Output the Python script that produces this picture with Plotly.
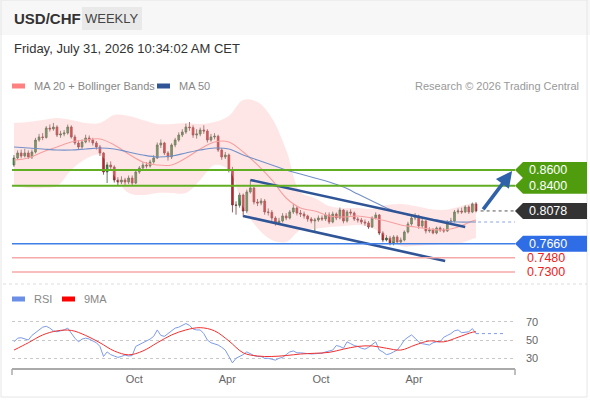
import pandas as pd
import plotly.graph_objects as go

# ── Weekly USD/CHF candles (one per Friday, last = 2026-07-31) ───────────────
last_week = "2026-07-31"
first_open = 0.8664
close = [
    0.8753, 0.8817, 0.8778, 0.8817, 0.8766, 0.8829, 0.8982, 0.9021, 0.9015, 0.9135,
    0.9123, 0.9148, 0.9046, 0.9059, 0.9072, 0.9148, 0.9021, 0.8944, 0.8893, 0.8957,
    0.9008, 0.8982, 0.8944, 0.8893, 0.8817, 0.8575, 0.8664, 0.8638, 0.8473, 0.8447,
    0.8473, 0.8447, 0.8498, 0.8434, 0.8575, 0.8625, 0.8664, 0.8651, 0.8702, 0.8753,
    0.8919, 0.8944, 0.8817, 0.8766, 0.8919, 0.8982, 0.9046, 0.9084, 0.9148, 0.9140,
    0.9046, 0.9059, 0.9110, 0.9097, 0.8982, 0.9021, 0.9030, 0.8855, 0.8766, 0.8791,
    0.8600, 0.8154, 0.8150, 0.8281, 0.8077, 0.8320, 0.8371, 0.8192, 0.8179, 0.8205,
    0.8065, 0.8060, 0.7988, 0.7925, 0.7950, 0.8014, 0.7988, 0.8065, 0.8116, 0.8052,
    0.8039, 0.8014, 0.7975, 0.7950, 0.7963, 0.7988, 0.7975, 0.8026, 0.7937, 0.8039,
    0.7988, 0.8090, 0.7950, 0.8065, 0.8052, 0.7975, 0.7963, 0.7937, 0.7925, 0.7874,
    0.7988, 0.8026, 0.7797, 0.7708, 0.7733, 0.7670, 0.7746, 0.7682, 0.7708, 0.7810,
    0.7912, 0.7988, 0.8014, 0.7886, 0.7950, 0.7823, 0.7835, 0.7797, 0.7861, 0.7835,
    0.7823, 0.7937, 0.7950, 0.8065, 0.8077, 0.8065, 0.8128, 0.8065, 0.8167, 0.8078,
]
high = [
    0.8790, 0.8850, 0.8860, 0.8870, 0.8850, 0.8860, 0.9010, 0.9060, 0.9070, 0.9160,
    0.9180, 0.9200, 0.9170, 0.9100, 0.9110, 0.9180, 0.9170, 0.9050, 0.8980, 0.8990,
    0.9050, 0.9040, 0.9010, 0.8970, 0.8920, 0.8830, 0.8700, 0.8710, 0.8660, 0.8510,
    0.8520, 0.8500, 0.8530, 0.8530, 0.8600, 0.8650, 0.8700, 0.8700, 0.8730, 0.8790,
    0.8950, 0.8990, 0.8960, 0.8840, 0.8940, 0.9010, 0.9080, 0.9120, 0.9190, 0.9210,
    0.9170, 0.9120, 0.9140, 0.9170, 0.9120, 0.9060, 0.9070, 0.9050, 0.8880, 0.8830,
    0.8810, 0.8640, 0.8200, 0.8310, 0.8300, 0.8350, 0.8473, 0.8390, 0.8230, 0.8240,
    0.8230, 0.8110, 0.8090, 0.8010, 0.7990, 0.8050, 0.8050, 0.8090, 0.8170, 0.8140,
    0.8090, 0.8070, 0.8030, 0.8000, 0.7990, 0.8020, 0.8020, 0.8060, 0.8060, 0.8070,
    0.8060, 0.8120, 0.8100, 0.8090, 0.8100, 0.8070, 0.8000, 0.7990, 0.7970, 0.7950,
    0.8010, 0.8060, 0.8040, 0.7820, 0.7770, 0.7760, 0.7770, 0.7770, 0.7740, 0.7830,
    0.7940, 0.8020, 0.8050, 0.8030, 0.7990, 0.7960, 0.7870, 0.7860, 0.7880, 0.7880,
    0.7860, 0.7960, 0.7990, 0.8090, 0.8110, 0.8120, 0.8150, 0.8150, 0.8185, 0.8190,
]
low = [
    0.8640, 0.8730, 0.8750, 0.8760, 0.8740, 0.8740, 0.8810, 0.8960, 0.8980, 0.9000,
    0.9090, 0.9100, 0.9020, 0.9010, 0.9030, 0.9050, 0.9000, 0.8920, 0.8860, 0.8870,
    0.8940, 0.8950, 0.8910, 0.8860, 0.8780, 0.8540, 0.8434, 0.8600, 0.8440, 0.8400,
    0.8420, 0.8410, 0.8420, 0.8400, 0.8420, 0.8550, 0.8600, 0.8620, 0.8630, 0.8680,
    0.8740, 0.8880, 0.8790, 0.8720, 0.8740, 0.8890, 0.8960, 0.9020, 0.9060, 0.9100,
    0.9010, 0.9000, 0.9030, 0.9060, 0.8950, 0.8960, 0.8990, 0.8830, 0.8730, 0.8740,
    0.8570, 0.8060, 0.8030, 0.8120, 0.8000, 0.8050, 0.8300, 0.8160, 0.8140, 0.8150,
    0.8030, 0.8020, 0.7950, 0.7890, 0.7900, 0.7930, 0.7960, 0.7970, 0.8040, 0.8020,
    0.8000, 0.7980, 0.7940, 0.7920, 0.7810, 0.7940, 0.7950, 0.7950, 0.7910, 0.7920,
    0.7960, 0.7970, 0.7920, 0.7930, 0.8020, 0.7950, 0.7930, 0.7910, 0.7890, 0.7850,
    0.7860, 0.7970, 0.7770, 0.7680, 0.7690, 0.7640, 0.7640, 0.7660, 0.7665, 0.7690,
    0.7790, 0.7890, 0.7960, 0.7850, 0.7860, 0.7790, 0.7800, 0.7780, 0.7780, 0.7810,
    0.7800, 0.7810, 0.7910, 0.7930, 0.8040, 0.8040, 0.8050, 0.8040, 0.8050, 0.8060,
]

# ── Indicators, every 4th week (index into the candles) ───
ind_weeks = [0, 4, 8, 12, 16, 20, 24, 28, 32, 36, 40, 44, 48, 52, 56, 60, 64,
             68, 72, 76, 80, 84, 88, 92, 96, 100, 104, 108, 112, 116, 120, 124, 128, 129]
ma20 = [0.8727, 0.8753, 0.8829, 0.8893, 0.8957, 0.8982, 0.8995, 0.8919, 0.8804,
        0.8702, 0.8664, 0.8664, 0.8753, 0.8868, 0.8957, 0.8957, 0.8829, 0.8664,
        0.8473, 0.8243, 0.8116, 0.8077, 0.8014, 0.8001, 0.8014, 0.7988, 0.7950,
        0.7899, 0.7874, 0.7848, 0.7835, 0.7874, 0.7950, 0.7963]
bb_upper = [0.9199, 0.9212, 0.9237, 0.9263, 0.9237, 0.9199, 0.9199, 0.9301, 0.9288,
            0.9237, 0.9186, 0.9186, 0.9199, 0.9186, 0.9212, 0.9288, 0.9492, 0.9467,
            0.9263, 0.8855, 0.8320, 0.8243, 0.8141, 0.8116, 0.8116, 0.8103, 0.8154,
            0.8167, 0.8141, 0.8103, 0.8090, 0.8128, 0.8179, 0.8179]
bb_lower = [0.8396, 0.8371, 0.8371, 0.8396, 0.8600, 0.8740, 0.8791, 0.8524, 0.8307,
            0.8281, 0.8307, 0.8307, 0.8307, 0.8473, 0.8664, 0.8600, 0.8128, 0.7861,
            0.7708, 0.7682, 0.7835, 0.7848, 0.7874, 0.7886, 0.7899, 0.7861, 0.7746,
            0.7631, 0.7631, 0.7644, 0.7657, 0.7657, 0.7721, 0.7733]
ma50 = [0.8893, 0.8880, 0.8868, 0.8855, 0.8855, 0.8868, 0.8880, 0.8868, 0.8829,
        0.8791, 0.8766, 0.8778, 0.8817, 0.8855, 0.8880, 0.8868, 0.8791, 0.8727,
        0.8664, 0.8600, 0.8549, 0.8498, 0.8447, 0.8383, 0.8294, 0.8205, 0.8116,
        0.8052, 0.8001, 0.7975, 0.7950, 0.7937, 0.7937, 0.7937]

# RSI (weekly) and its 9-period MA (sampled like the indicators above)
rsi = [
    48, 52, 52.5, 51, 50, 55, 58, 61, 64, 65,
    63, 60, 59, 60, 61, 63, 57, 52, 48, 51,
    52, 51, 49, 47, 43, 32, 37, 34, 32.5, 31,
    32, 33.6, 32.5, 33, 43, 45, 47, 49, 51, 54,
    61, 55, 54, 57, 60, 63, 64, 66, 68, 66,
    62, 61, 61, 57, 50, 47, 46, 44.5, 42, 39,
    32, 25, 30, 32, 34, 37, 35, 33, 32, 32,
    30, 30, 29, 28, 30, 31, 34, 37, 38, 36,
    36, 35.5, 35, 34.7, 35, 35.5, 35.5, 37, 38, 39,
    44, 43, 41, 48, 46, 44, 43, 41, 40, 42,
    45, 48, 39, 37, 34, 35, 37, 39, 44, 50,
    53, 55.5, 52, 48, 46, 45, 44.5, 47, 48, 48,
    53, 55, 57, 60, 61, 58, 58.5, 59, 62.5, 57,
]
rsi_ma = [39, 47, 55.5, 60, 60.5, 55, 47, 38, 33.8, 38, 47, 55.5, 61, 63.5, 60,
          49, 36, 32.5, 32, 33, 34.7, 35.5, 36.5, 40, 43, 43.5, 41, 39, 44.5,
          49, 48, 53, 58.5, 59]

# ── Key levels / drawings ────────────────────────────────────────────────────
resistances = [0.8600, 0.8400]
pivot = 0.7660
supports = [0.7480, 0.7300]
chan_up_weeks, chan_up = [66, 126], [0.8473, 0.7874]
chan_lo_weeks, chan_lo = [64, 120.4], [0.8014, 0.7440]
arrow_weeks = [130.7, 139.1]
rsi_ticks = [30, 50, 70]
month_ticks = ["2024-10-01", "2025-04-01", "2025-10-01", "2026-04-01"]
month_text = ["Oct", "Apr", "Oct", "Apr"]

# ── Helpers ──────────────────────────────────────────────────────────────────
W, H = 590, 400
dates = pd.date_range(end=last_week, periods=len(close), freq="7D")
opens = [first_open] + close[:-1]   # FX weekly candle opens at previous close


def wk(w):
    return dates[0] + pd.Timedelta(days=7 * w)


def px(x):
    return x / W


def py(y):
    return 1 - y / H


ind_dates = [wk(w) for w in ind_weeks]
x_dom = [px(12), px(515)]
y_main = [0.7134, 0.9556]
x_range = [wk(-0.56), wk(139.9)]
FONT = "Liberation Sans, Arial, sans-serif"
GREEN_TAG = "#4f9d0f"
GREEN_LINE = "#62ae22"

fig = go.Figure()

# Bollinger band fill + moving averages
fig.add_trace(go.Scatter(x=ind_dates, y=bb_upper, mode="lines", line=dict(width=0, shape="spline"),
                         hoverinfo="skip", xaxis="x", yaxis="y"))
fig.add_trace(go.Scatter(x=ind_dates, y=bb_lower, mode="lines", line=dict(width=0, shape="spline"),
                         fill="tonexty", fillcolor="rgba(255,180,180,0.33)", hoverinfo="skip",
                         xaxis="x", yaxis="y"))
fig.add_trace(go.Scatter(x=ind_dates, y=ma20, mode="lines",
                         line=dict(color="#f5a0a0", width=1.1, shape="spline"), xaxis="x", yaxis="y"))
fig.add_trace(go.Scatter(x=ind_dates, y=ma50, mode="lines",
                         line=dict(color="#7390c8", width=1.1, shape="spline"), xaxis="x", yaxis="y"))

# candles
fig.add_trace(go.Candlestick(
    x=dates, open=opens, high=high, low=low, close=close,
    increasing=dict(line=dict(color="#3d5c3d", width=0.8), fillcolor="#2f9a3a"),
    decreasing=dict(line=dict(color="#7a3a3a", width=0.8), fillcolor="#e8141c"),
    whiskerwidth=0, xaxis="x", yaxis="y",
))

# channel
for ws, vals in [(chan_up_weeks, chan_up), (chan_lo_weeks, chan_lo)]:
    fig.add_trace(go.Scatter(x=[wk(w) for w in ws], y=vals, mode="lines",
                             line=dict(color="#2f5597", width=2.6), xaxis="x", yaxis="y"))

# dotted extensions of last price and MA50
fig.add_trace(go.Scatter(x=[wk(130.3), x_range[1]], y=[close[-1]] * 2, mode="lines",
                         line=dict(color="#555", width=1, dash="dot"), xaxis="x", yaxis="y"))
fig.add_trace(go.Scatter(x=[wk(129.6), x_range[1]], y=[ma50[-1]] * 2, mode="lines",
                         line=dict(color="#8aa6de", width=1, dash="dot"), xaxis="x", yaxis="y"))

# RSI panel
fig.add_trace(go.Scatter(x=dates, y=rsi, mode="lines", line=dict(color="#7d9be8", width=1),
                         xaxis="x2", yaxis="y2"))
fig.add_trace(go.Scatter(x=ind_dates, y=rsi_ma, mode="lines",
                         line=dict(color="#f03030", width=1, shape="spline"), xaxis="x2", yaxis="y2"))
fig.add_trace(go.Scatter(x=[dates[-1], wk(137)], y=[rsi[-1]] * 2, mode="lines",
                         line=dict(color="#7d9be8", width=1, dash="dot"), xaxis="x2", yaxis="y2"))

shapes = []
annotations = []

# frame, header strip, separator
shapes.append(dict(type="rect", xref="paper", yref="paper", x0=0, x1=1, y0=py(35), y1=1,
                   fillcolor="#f8f7f7", line=dict(width=0), layer="below"))
shapes.append(dict(type="rect", xref="paper", yref="paper", x0=px(1), x1=px(587), y0=py(397), y1=1,
                   line=dict(color="#e6e6e6", width=1), layer="below"))
shapes.append(dict(type="line", xref="paper", yref="paper", x0=px(3), x1=px(587), y0=py(284), y1=py(284),
                   line=dict(color="#dddddd", width=1, dash="dot")))
shapes.append(dict(type="rect", xref="paper", yref="paper", x0=px(82), x1=px(142), y0=py(30), y1=py(7),
                   fillcolor="#e9e9e9", line=dict(width=0)))

# level lines
for lv in resistances:
    shapes.append(dict(type="line", xref="x domain", yref="y", x0=0, x1=1, y0=lv, y1=lv,
                       line=dict(color=GREEN_LINE, width=2)))
shapes.append(dict(type="line", xref="x domain", yref="y", x0=0, x1=1, y0=pivot, y1=pivot,
                   line=dict(color="#3f7fe8", width=1.5)))
for lv in supports:
    shapes.append(dict(type="line", xref="x domain", yref="y", x0=0, x1=1, y0=lv, y1=lv,
                       line=dict(color="#f6a8a8", width=1.5)))


# right-hand price tags
def tag(value, color):
    h = 8 / 784.6
    xa, xb, xc = px(515), px(523), px(587)
    path = (f"M {xa},{value} L {xb},{value + h} L {xc},{value + h} "
            f"L {xc},{value - h} L {xb},{value - h} Z")
    shapes.append(dict(type="path", xref="paper", yref="y", path=path,
                       fillcolor=color, line=dict(width=0)))
    annotations.append(dict(xref="paper", yref="y", x=px(527), y=value, xanchor="left",
                            text=f"{value:.4f}", showarrow=False,
                            font=dict(color="white", size=12.5, family=FONT)))


tag(resistances[0], GREEN_TAG)
tag(resistances[1], GREEN_TAG)
tag(close[-1], "#333333")
tag(pivot, "#2f6de6")
for lv in supports:
    annotations.append(dict(xref="paper", yref="y", x=px(525), y=lv, xanchor="left",
                            text=f"{lv:.4f}", showarrow=False,
                            font=dict(color="#f02020", size=12.5, family=FONT)))

# target arrow
annotations.append(dict(xref="x", yref="y", axref="x", ayref="y",
                        x=wk(arrow_weeks[1]), y=resistances[0] - 0.0012,
                        ax=wk(arrow_weeks[0]), ay=close[-1],
                        showarrow=True, arrowhead=2, arrowsize=0.9, arrowwidth=3.6,
                        arrowcolor="#2f62a8", text=""))

# bottom axis end ticks
for xe in (0, 1):
    shapes.append(dict(type="line", xref="x2 domain", yref="paper", x0=xe, x1=xe,
                       y0=py(369), y1=py(375), line=dict(color="#aaaaaa", width=1.5)))

# header texts
annotations += [
    dict(xref="paper", yref="paper", x=px(12), y=py(19), xanchor="left", yanchor="middle",
         text="<b>USD/CHF</b>", showarrow=False, font=dict(size=15, color="#333", family=FONT)),
    dict(xref="paper", yref="paper", x=px(112), y=py(19), xanchor="center", yanchor="middle",
         text="WEEKLY", showarrow=False, font=dict(size=13, color="#444", family=FONT)),
    dict(xref="paper", yref="paper", x=px(12), y=py(48), xanchor="left", yanchor="middle",
         text="Friday, July 31, 2026 10:34:02 AM CET", showarrow=False,
         font=dict(size=13, color="#333", family=FONT)),
    dict(xref="paper", yref="paper", x=px(581), y=py(86), xanchor="right", yanchor="middle",
         text="Research © 2026 Trading Central", showarrow=False,
         font=dict(size=11, color="#999", family=FONT)),
]

# hand-drawn legends
legend_items = [(12, 86, "#ff8080", "MA 20 + Bollinger Bands"), (157, 86, "#2f5597", "MA 50"),
                (12, 299, "#6b8fe6", "RSI"), (62, 299, "#ff0000", "9MA")]
for lx, ly, col, label in legend_items:
    shapes.append(dict(type="rect", xref="paper", yref="paper", x0=px(lx), x1=px(lx + 13),
                       y0=py(ly + 2.5), y1=py(ly - 2.5), fillcolor=col, line=dict(width=0)))
    annotations.append(dict(xref="paper", yref="paper", x=px(lx + 20), y=py(ly), xanchor="left",
                            yanchor="middle", text=label, showarrow=False,
                            font=dict(size=11, color="#888", family=FONT)))

fig.update_layout(
    width=W, height=H,
    margin=dict(l=0, r=0, t=0, b=0),
    paper_bgcolor="white", plot_bgcolor="rgba(0,0,0,0)",
    showlegend=False,
    font=dict(family=FONT),
    shapes=shapes, annotations=annotations,
    xaxis=dict(domain=x_dom, range=x_range, visible=False, rangeslider=dict(visible=False),
               anchor="y"),
    yaxis=dict(domain=[py(285), py(95)], range=y_main, visible=False, anchor="x"),
    xaxis2=dict(domain=x_dom, range=x_range, anchor="y2", tickvals=month_ticks, ticktext=month_text,
                showline=True, linecolor="#aaaaaa", linewidth=2, ticks="", showgrid=False,
                tickfont=dict(size=11, color="#666")),
    yaxis2=dict(domain=[py(368), py(310)], range=[19.4, 82.8], anchor="x2", side="right",
                tickvals=rsi_ticks, showgrid=True, gridcolor="#c8c8c8", griddash="dot",
                zeroline=False, ticks="", ticklabelstandoff=10,
                tickfont=dict(size=11, color="#666")),
)

# the page's default 8px body margin would push the 590x400 figure off-window
fig.write_html("out.html", config={"displayModeBar": False},
               post_script="document.body.style.margin='0px';")
